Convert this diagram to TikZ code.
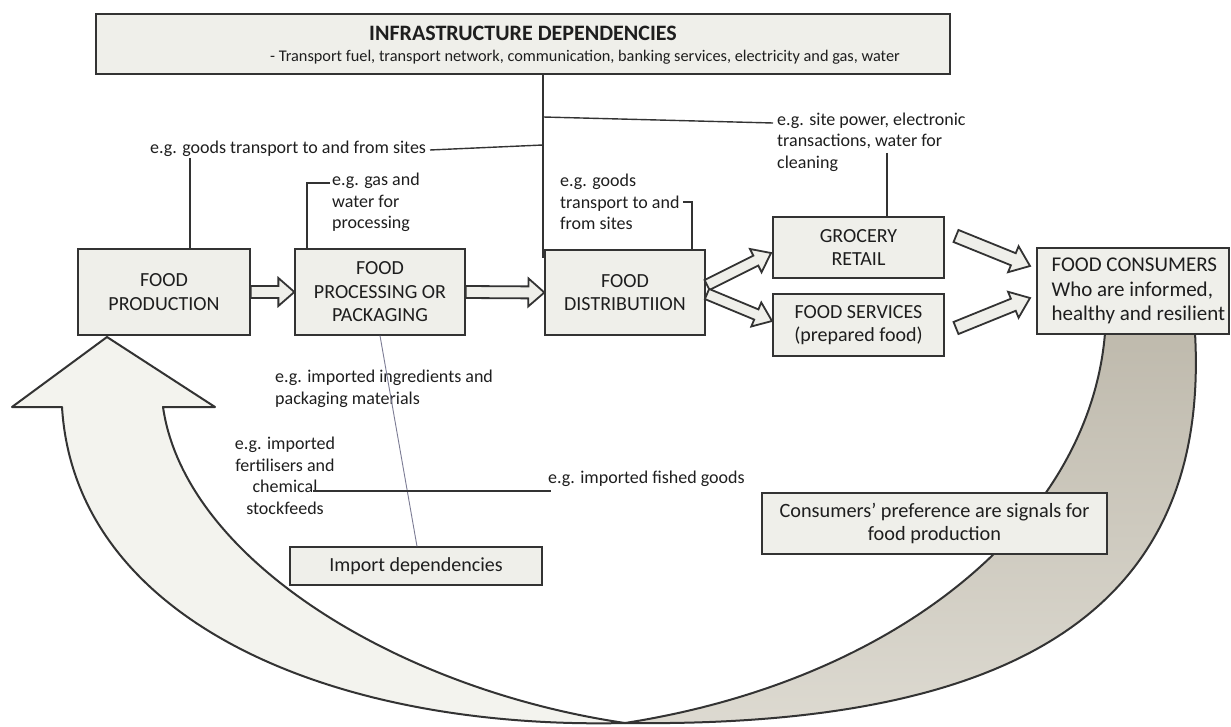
\documentclass[tikz,border=0pt]{standalone}
\usepackage{fontspec}
\setmainfont{Carlito}
\usetikzlibrary{calc}
\definecolor{boxfill}{HTML}{EFEFEA}
\definecolor{edge}{HTML}{333333}
\definecolor{lightband}{HTML}{F3F3EE}
\definecolor{bandtop}{HTML}{BFBAAD}
\definecolor{bandbot}{HTML}{DDDAD1}
\definecolor{thinblue}{HTML}{7C7C94}
\definecolor{ink}{HTML}{1E1E1E}
\newcommand{\hollowarrow}[5]{%
  \coordinate (hab) at ($(#2)!#5!(#1)$);
  \draw[flow] ($(#1)!#3!90:(#2)$) -- ($(hab)!#3!90:(#2)$) -- ($(hab)!#4!90:(#2)$) -- (#2)
    -- ($(hab)!#4!-90:(#2)$) -- ($(hab)!#3!-90:(#2)$) -- ($(#1)!#3!-90:(#2)$) -- cycle;}
\begin{document}
\begin{tikzpicture}[x=1pt,y=-1pt,
  box/.style={draw=edge, line width=1.3pt, fill=boxfill, align=center, inner sep=0pt, text=ink,
    font=\fontsize{20}{23.5}\selectfont},
  note/.style={inner sep=0pt, text=ink, font=\fontsize{18}{21.6}\selectfont, align=left},
  link/.style={draw=edge, line width=1.4pt},
  thinlink/.style={draw=thinblue, line width=0.9pt},
  flow/.style={draw=edge, line width=1.8pt, fill=boxfill, line join=miter},
  band/.style={draw=edge, line width=2pt, line join=round}]
\useasboundingbox (0,0) rectangle (1231,727);
\fill[white] (0,0) rectangle (1231,727);

% big curved feedback arrow
\path[band, fill=lightband] (163,407) -- (215,407) -- (107,337) -- (12,407) -- (62,407)
  .. controls (75,620) and (330,730) .. (625,723)
  .. controls (400,690) and (185,560) .. (163,407) -- cycle;
\path[band, top color=bandtop, bottom color=bandbot] (625,723)
  .. controls (1030,728) and (1210,600) .. (1195,333) -- (1105,333)
  .. controls (1090,520) and (900,680) .. (625,723) -- cycle;

% boxes
\node[box, minimum width=854pt, minimum height=60pt, line width=1.6pt] (infra) at (523,44) {};
\node[inner sep=0pt, text=ink, font=\fontsize{22}{25}\selectfont\bfseries] (infratitle) at (523,33)
  {INFRASTRUCTURE DEPENDENCIES};
\node[inner sep=0pt, text=ink, font=\fontsize{16.3}{20}\selectfont] (infralist) at (585,57)
  {- Transport fuel, transport network, communication, banking services, electricity and gas, water};
\node[box, minimum width=172pt, minimum height=86pt] (prod) at (164,292) {FOOD\\PRODUCTION};
\node[box, minimum width=170pt, minimum height=86pt] (proc) at (380,292) {FOOD\\PROCESSING OR\\PACKAGING};
\node[box, minimum width=160pt, minimum height=85pt] (dist) at (625,292.5) {FOOD\\DISTRIBUTIION};
\node[box, minimum width=171pt, minimum height=61pt] (groc) at (858.5,247.5) {GROCERY\\RETAIL};
\node[box, minimum width=171pt, minimum height=62pt] (serv) at (858.5,325) {FOOD SERVICES\\(prepared food)};
\node[box, minimum width=192pt, minimum height=86pt] (cons) at (1133,291) {};
\node[inner sep=0pt, anchor=west, align=left, text=ink, font=\fontsize{21}{24.5}\selectfont] (constext)
  at ($(cons.west)+(15,0)$) {FOOD CONSUMERS\\Who are informed,\\healthy and resilient};
\node[box, minimum width=252pt, minimum height=38pt] (imp) at (416,566) {Import dependencies};
\node[box, minimum width=345pt, minimum height=61pt, font=\fontsize{20.3}{23}\selectfont] (pref) at (934.5,523.5)
  {Consumers’ preference are signals for\\food production};

% annotations
\node[note, anchor=west] (tg1) at (150,149) {e.g. goods transport to and from sites};
\node[note, anchor=west] (tgas) at (332,202.5) {e.g. gas and\\water for\\processing};
\node[note, anchor=west] (tg2) at (560,202) {e.g. goods\\transport to and\\from sites};
\node[note, anchor=west] (tpow) at (777,142) {e.g. site power, electronic\\transactions, water for\\cleaning};
\node[note, anchor=west] (ting) at (275,389) {e.g. imported ingredients and\\packaging materials};
\node[note, align=center] (tfer) at (285,476) {e.g. imported\\fertilisers and\\chemical\\stockfeeds};
\node[note, anchor=west] (tfis) at (548,479) {e.g. imported fished goods};

% connector lines
\coordinate (g1) at (190,158);
\draw[link] (g1) -- (g1 |- prod.north);
\coordinate (vx) at (543,0);
\coordinate (vb) at (543,258);
\draw[link] (vx |- infra.south) -- (vb);
\coordinate (ga) at (430,150);
\coordinate (gb) at (543,145);
\draw[link] (ga) -- (gb);
\coordinate (pa) at (543,117);
\coordinate (pb) at (773,123);
\draw[link] (pa) -- (pb);
\coordinate (pc) at (887,153);
\draw[link] (pc) -- (pc |- groc.north);
\coordinate (sa) at (330,183);
\coordinate (sb) at (307,183);
\draw[link] (sa) -- (sb) -- (sb |- proc.north);
\coordinate (da) at (683,202);
\coordinate (db) at (692,202);
\draw[link] (da) -- (db) -- (db |- dist.north);
\coordinate (ia) at (380,0);
\coordinate (ib) at (417,0);
\draw[thinlink] (ia |- proc.south) -- (ib |- imp.north);
\coordinate (fa) at (313,491);
\coordinate (fb) at (551,491);
\draw[link] (fa) -- (fb);

% flow arrows
\hollowarrow{prod.east}{proc.west}{6pt}{14pt}{16pt}
\hollowarrow{proc.east}{dist.west}{6pt}{14pt}{16pt}
\coordinate (a3s) at (707,285);
\coordinate (a3e) at (771,253);
\coordinate (a4s) at (707,294);
\coordinate (a4e) at (772,321);
\coordinate (a5s) at (956,236);
\coordinate (a5e) at (1030,266);
\coordinate (a6s) at (956,328);
\coordinate (a6e) at (1030,298);
\hollowarrow{a3s}{a3e}{5.5pt}{13pt}{17pt}
\hollowarrow{a4s}{a4e}{5.5pt}{13pt}{17pt}
\hollowarrow{a5s}{a5e}{6.5pt}{14pt}{18pt}
\hollowarrow{a6s}{a6e}{6.5pt}{14pt}{18pt}
\end{tikzpicture}
\end{document}
